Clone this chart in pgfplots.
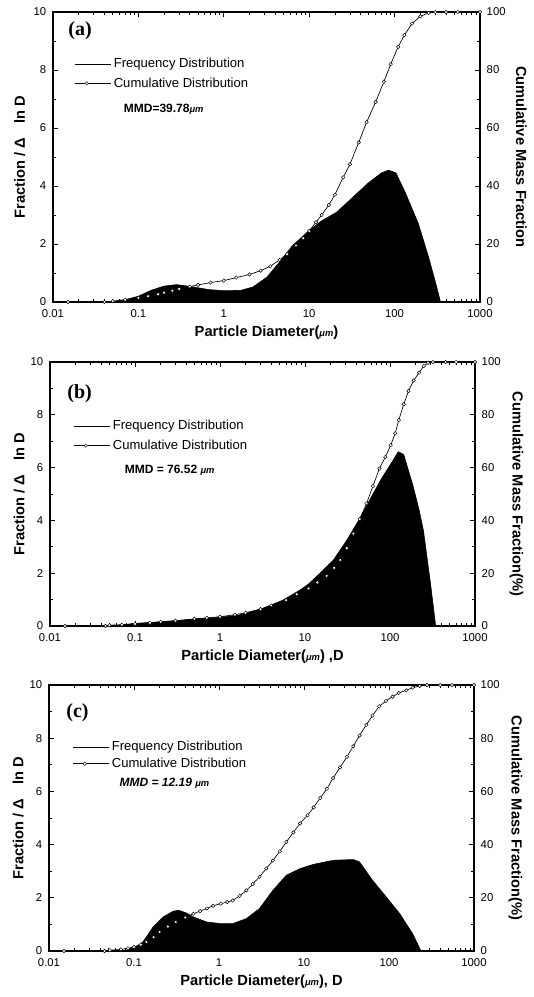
\documentclass[border=0pt]{standalone}
\usepackage{pgfplots}
\pgfplotsset{compat=1.18}
\usepackage{pgfplotstable}
\usepackage{fontspec}
\setmainfont{Liberation Sans}
\newfontfamily\serifb{Liberation Serif}

% frequency distributions (D in um, fraction / d ln D)
\pgfplotstableread{
D f
0.015 0
0.04 0
0.053 0.02
0.07 0.08
0.1 0.2
0.14 0.4
0.2 0.55
0.28 0.6
0.4 0.54
0.66 0.43
1 0.39
1.57 0.4
2.2 0.52
3.2 0.86
4.5 1.38
6.4 1.95
10 2.47
14 2.8
21 3.1
31 3.56
48 4.08
70 4.45
85 4.55
104 4.45
135 3.74
190 2.7
250 1.55
300 0.7
345 0
1000 0
}\freqa
\pgfplotstableread{
D f
0.015 0
0.05 0
0.07 0.04
0.1 0.1
0.2 0.16
0.3 0.2
0.5 0.26
1 0.33
1.7 0.42
3.2 0.67
5.5 0.98
8.7 1.36
11 1.59
15 2.0
21.6 2.5
31 3.25
44 4.07
63 5.0
80 5.6
105 6.2
125 6.6
145 6.5
187 5.3
220 4.4
248 3.6
300 1.6
345 0
1000 0
}\freqb
\pgfplotstableread{
D f
0.015 0
0.05 0
0.08 0.03
0.1 0.12
0.127 0.34
0.145 0.6
0.167 0.9
0.22 1.28
0.29 1.5
0.34 1.53
0.42 1.42
0.5 1.28
0.72 1.09
1.05 1.03
1.45 1.03
2.1 1.22
3.0 1.6
4.3 2.28
6.2 2.85
9 3.1
13 3.26
22 3.41
38 3.44
45 3.35
64 2.66
93 2.03
134 1.4
190 0.65
238 0
1000 0
}\freqc

% cumulative mass fraction (%)
\pgfplotstableread{
D c
0.015 0
0.04 0
0.05 0.3
0.07 0.8
0.1 1.4
0.13 2.0
0.17 2.7
0.2 3.2
0.25 3.9
0.3 4.5
0.4 5.3
0.5 5.9
0.7 6.7
1 7.4
1.4 8.4
2 9.5
2.7 10.8
3.5 12.3
4.5 14.5
5.5 16.5
7 19.5
8.5 22
10 24.5
12 27.5
14 30
17 33.5
20 37
25 43
30 47.5
38 55
47 62
60 69
75 76
90 82
110 88
130 92
160 96
200 98.5
250 99.7
300 100
400 100
550 100
1000 100
}\cuma
\pgfplotstableread{
D c
0.015 0
0.045 0
0.05 0.3
0.07 0.5
0.1 0.8
0.15 1.2
0.2 1.6
0.3 2.0
0.5 2.7
0.7 3.1
1 3.5
1.5 4.3
2 5.0
3 6.4
4 7.8
6 9.8
8 12
11 14.2
14 16.5
18 19
22 22
26 25
31 29.5
37 35
44 40.5
53 46.4
63 53
75 59.6
88 64
102 68.5
115 73
127 78
145 84
165 89
190 93
220 96
250 98.5
280 99.7
320 100
450 100
600 100
1000 100
}\cumb
\pgfplotstableread{
D c
0.015 0
0.045 0
0.052 0.3
0.07 0.6
0.085 1.0
0.1 1.5
0.12 2.4
0.14 3.4
0.17 5.2
0.2 7.2
0.25 9.2
0.31 10.9
0.4 12.6
0.5 14
0.6 15
0.72 16
0.85 17
1.05 17.8
1.25 18.4
1.45 19
1.75 20.7
2.1 22.8
2.5 25.2
3.0 27.9
3.6 31
4.3 34
5.2 37.5
6.2 41
7.5 44.6
9 48
11 51
13 54
15.5 57.5
18.6 61
22 65
26.5 69
32 73
38 77
45 81
54 85
64 88.5
77 92
92 94
110 95.6
130 97
160 98
190 99
230 99.6
280 100
400 100
550 100
1000 100
}\cumc

\pgfkeys{/pgf/number format/assume math mode=true}
\pgfplotsset{
  every axis/.append style={
    scale only axis, anchor=north west,
    xmin=0.01, xmax=1000,
    tick align=inside, major tick length=4pt, minor tick length=2.2pt,
    axis line style={line width=0.9pt},
    tick label style={font=\fontsize{8.5}{9}\selectfont},
    xticklabel style={yshift=-2.5pt},
    label style={font=\fontsize{11}{13}\selectfont\bfseries},
  },
  every tick/.style={black, line width=0.6pt},
}
\tikzset{
  psdCum/.style={black, line width=0.5pt, mark=*, mark size=1.3pt,
    mark options={fill=white, draw=black, line width=0.35pt}},
  psdFreq/.style={fill=black, draw=black, line width=0.4pt},
}

\newcommand\legfreq{\addlegendimage{legend image code/.code={\draw[black, line width=0.5pt] (0pt,0pt)--(27pt,0pt);}}}
\newcommand\legcum{\addlegendimage{legend image code/.code={\draw[black, line width=0.6pt] (0pt,0pt)--(27pt,0pt);
  \draw[black, fill=white, line width=0.35pt] (9pt,0pt) circle (1.3pt);}}}
\newcommand\um{{\fontsize{7}{8}\selectfont\itshape μm}}

\begin{document}
\begin{tikzpicture}
\path[use as bounding box] (0,0) rectangle (399.75pt,-747.75pt);

% ---- (a)
\begin{axis}[xmode=log, at={(39.75pt,-9pt)}, width=320.25pt, height=217.5pt,
  ymin=0, ymax=10, ytick={0,2,...,10}, minor y tick num=1,
  xtick={0.01,0.1,1,10,100,1000}, xticklabels={0.01,0.1,1,10,100,1000},
  ytick pos=left, yticklabel style={xshift=-1.5pt},
  xlabel style={at={([yshift=-23pt]axis description cs:0.5,0)}, anchor=center},
  ylabel style={at={([xshift=-25pt]axis description cs:0,0.5)}, anchor=center},
  ylabel={Fraction / Δ\quad ln D},
  xlabel={Particle Diameter(\um)},
  legend style={draw=none, fill=none, font=\fontsize{9.8}{11}\selectfont,
    anchor=north west, row sep=2pt, at={(rel axis cs:0.04,0.86)}},
  legend cell align=left]
\addplot[psdFreq, forget plot] table[x=D,y=f] {\freqa} \closedcycle;
\legfreq \addlegendentry{Frequency Distribution}
\legcum \addlegendentry{Cumulative Distribution}
\node[anchor=west, font=\fontsize{9}{10}\selectfont\bfseries] at (rel axis cs:0.155,0.665) {MMD=39.78\um};
\node[anchor=west, font=\serifb\bfseries\fontsize{15}{16}\selectfont] at (rel axis cs:0.025,0.935) {(a)};
\end{axis}
\begin{axis}[xmode=log, at={(39.75pt,-9pt)}, width=320.25pt, height=217.5pt,
  axis x line=none, axis y line*=right,
  ymin=0, ymax=100, ytick={0,20,...,100}, minor y tick num=1,
  yticklabel style={xshift=1.5pt},
  ylabel style={at={([xshift=31pt]axis description cs:1,0.5)}, anchor=center, rotate=180},
  ylabel={Cumulative Mass Fraction}]
\addplot[psdCum] table[x=D,y=c] {\cuma};
\end{axis}

% ---- (b)
\begin{axis}[xmode=log, at={(37.5pt,-271.5pt)}, width=318.75pt, height=198pt,
  ymin=0, ymax=10, ytick={0,2,...,10}, minor y tick num=1,
  xtick={0.01,0.1,1,10,100,1000}, xticklabels={0.01,0.1,1,10,100,1000},
  ytick pos=left, yticklabel style={xshift=-1.5pt},
  xlabel style={at={([yshift=-23pt]axis description cs:0.5,0)}, anchor=center},
  ylabel style={at={([xshift=-23pt]axis description cs:0,0.5)}, anchor=center},
  ylabel={Fraction / Δ\quad ln D},
  xlabel={Particle Diameter(\um) ,D},
  legend style={draw=none, fill=none, font=\fontsize{9.8}{11}\selectfont,
    anchor=north west, row sep=2pt, at={(rel axis cs:0.045,0.8)}},
  legend cell align=left]
\addplot[psdFreq, forget plot] table[x=D,y=f] {\freqb} \closedcycle;
\legfreq \addlegendentry{Frequency Distribution}
\legcum \addlegendentry{Cumulative Distribution}
\node[anchor=west, font=\fontsize{9}{10}\selectfont\bfseries] at (rel axis cs:0.165,0.59) {MMD = 76.52 \um};
\node[anchor=west, font=\serifb\bfseries\fontsize{15}{16}\selectfont] at (rel axis cs:0.03,0.88) {(b)};
\end{axis}
\begin{axis}[xmode=log, at={(37.5pt,-271.5pt)}, width=318.75pt, height=198pt,
  axis x line=none, axis y line*=right,
  ymin=0, ymax=100, ytick={0,20,...,100}, minor y tick num=1,
  yticklabel style={xshift=1.5pt},
  ylabel style={at={([xshift=31pt]axis description cs:1,0.5)}, anchor=center, rotate=180},
  ylabel={Cumulative Mass Fraction(\%)}]
\addplot[psdCum] table[x=D,y=c] {\cumb};
\end{axis}

% ---- (c)
\begin{axis}[xmode=log, at={(36.75pt,-513.75pt)}, width=318.75pt, height=199.5pt,
  ymin=0, ymax=10, ytick={0,2,...,10}, minor y tick num=1,
  xtick={0.01,0.1,1,10,100,1000}, xticklabels={0.01,0.1,1,10,100,1000},
  ytick pos=left, yticklabel style={xshift=-1.5pt},
  xlabel style={at={([yshift=-23pt]axis description cs:0.5,0)}, anchor=center},
  ylabel style={at={([xshift=-23pt]axis description cs:0,0.5)}, anchor=center},
  ylabel={Fraction / Δ\quad ln D},
  xlabel={Particle Diameter(\um), D},
  legend style={draw=none, fill=none, font=\fontsize{9.8}{11}\selectfont,
    anchor=north west, row sep=0pt, at={(rel axis cs:0.045,0.81)}},
  legend cell align=left]
\addplot[psdFreq, forget plot] table[x=D,y=f] {\freqc} \closedcycle;
\legfreq \addlegendentry{Frequency Distribution}
\legcum \addlegendentry{Cumulative Distribution}
\node[anchor=west, font=\fontsize{9}{10}\selectfont\bfseries\itshape] at (rel axis cs:0.155,0.63) {MMD = 12.19 \um};
\node[anchor=west, font=\serifb\bfseries\fontsize{15}{16}\selectfont] at (rel axis cs:0.03,0.895) {(c)};
\end{axis}
\begin{axis}[xmode=log, at={(36.75pt,-513.75pt)}, width=318.75pt, height=199.5pt,
  axis x line=none, axis y line*=right,
  ymin=0, ymax=100, ytick={0,20,...,100}, minor y tick num=1,
  yticklabel style={xshift=1.5pt},
  ylabel style={at={([xshift=31pt]axis description cs:1,0.5)}, anchor=center, rotate=180},
  ylabel={Cumulative Mass Fraction(\%)}]
\addplot[psdCum] table[x=D,y=c] {\cumc};
\end{axis}
\end{tikzpicture}
\end{document}
